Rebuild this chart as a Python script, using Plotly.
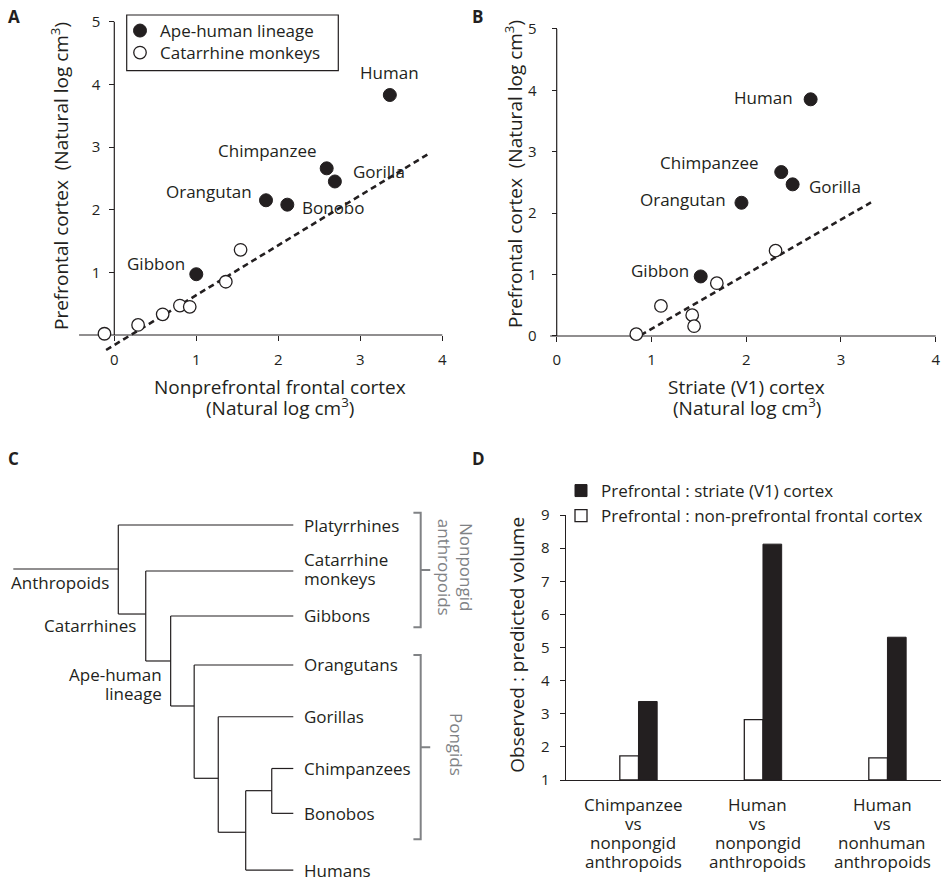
import plotly.graph_objects as go

W, H = 941, 880

# ---------------- Data ----------------
# Panel A: prefrontal vs nonprefrontal frontal cortex (natural log cm^3)
ape_names_A = ["Human", "Chimpanzee", "Gorilla", "Orangutan", "Bonobo", "Gibbon"]
ape_x_A = [3.36, 2.59, 2.69, 1.85, 2.11, 1.00]
ape_y_A = [3.83, 2.66, 2.45, 2.15, 2.08, 0.97]
monkey_x_A = [-0.12, 0.29, 0.59, 0.80, 0.92, 1.36, 1.54]
monkey_y_A = [0.02, 0.16, 0.33, 0.47, 0.45, 0.85, 1.36]
fit_slope_A, fit_intercept_A = 0.796, -0.16
fit_xspan_A = [-0.10, 3.83]

# Panel B: prefrontal vs striate (V1) cortex (natural log cm^3)
ape_names_B = ["Human", "Chimpanzee", "Gorilla", "Orangutan", "Gibbon"]
ape_x_B = [2.68, 2.37, 2.49, 1.95, 1.52]
ape_y_B = [3.855, 2.67, 2.47, 2.17, 0.97]
monkey_x_B = [0.84, 1.10, 1.43, 1.45, 1.69, 2.31]
monkey_y_B = [0.03, 0.49, 0.34, 0.16, 0.86, 1.39]
fit_slope_B, fit_intercept_B = 0.889, -0.773
fit_xspan_B = [0.887, 3.317]

xticks_AB = [0, 1, 2, 3, 4]
yticks_A = [1, 2, 3, 4, 5]
yticks_B = [0, 1, 2, 3, 4, 5]

# Panel C: cladogram
leaf_names = ["Platyrrhines", "Catarrhine\nmonkeys", "Gibbons", "Orangutans",
              "Gorillas", "Chimpanzees", "Bonobos", "Humans"]
leaf_rows = [0.0, 0.933, 1.846, 2.84, 3.89, 4.94, 5.85, 7.0]
leaf_depth = 1.0
stem_depth = 0.0
node_names = ["Anthropoids", "Catarrhines", "Ape-human\nlineage", "Great apes",
              "African apes", "Hominins", "Pan"]
node_depths = [0.375, 0.473, 0.562, 0.646, 0.732, 0.830, 0.923]
node_rows = [0.893, 1.806, 2.759, 3.672, 5.139, 6.234, 5.39]
node_children = [
    ["Platyrrhines", "Catarrhines"],
    ["Catarrhine\nmonkeys", "Ape-human\nlineage"],
    ["Gibbons", "Great apes"],
    ["Orangutans", "African apes"],
    ["Gorillas", "Hominins"],
    ["Pan", "Humans"],
    ["Chimpanzees", "Bonobos"],
]
labelled_nodes = ["Anthropoids", "Catarrhines", "Ape-human\nlineage"]
bracket_names = ["Nonpongid\nanthropoids", "Pongids"]
bracket_start_rows = [-0.25, 2.637]
bracket_end_rows = [2.075, 6.377]

# Panel D: observed : predicted volume
comparisons = ["Chimpanzee\nvs\nnonpongid\nanthropoids",
               "Human\nvs\nnonpongid\nanthropoids",
               "Human\nvs\nnonhuman\nanthropoids"]
ratio_nonprefrontal = [1.73, 2.82, 1.67]
ratio_striate = [3.37, 8.12, 5.31]
yticks_D = [1, 2, 3, 4, 5, 6, 7, 8, 9]

# ---------------- Styles ----------------
INK = "#231f20"
GRAY = "#808285"
FONT = "Open Sans"


def clamp(v):
    return max(0.0, min(1.0, v))


def dom_x(x0px, scale, rng):
    return [clamp((x0px + rng[0] * scale) / W), clamp((x0px + rng[1] * scale) / W)]


def dom_y(y0px, scale, rng):
    # y0px: pixel row of value 0; scale px per unit (upwards)
    return [clamp(1 - (y0px - rng[0] * scale) / H), clamp(1 - (y0px - rng[1] * scale) / H)]


fig = go.Figure()

# ---------- Panels A and B ----------
A = dict(x0=114.3, xs=82.0, xr=[-0.43, 4.03], y0=335.0, ys=62.66, yr=[-0.32, 5.06])
B = dict(x0=556.7, xs=94.75, xr=[-0.07, 4.03], y0=336.0, ys=61.4, yr=[-0.12, 5.06])

for ax, P, fx, fslope, fint, apex, apey, monx, mony, leg in [
    ("", A, fit_xspan_A, fit_slope_A, fit_intercept_A, ape_x_A, ape_y_A, monkey_x_A, monkey_y_A, True),
    ("2", B, fit_xspan_B, fit_slope_B, fit_intercept_B, ape_x_B, ape_y_B, monkey_x_B, monkey_y_B, False),
]:
    fig.add_trace(go.Scatter(
        x=fx, y=[fslope * v + fint for v in fx], mode="lines",
        line=dict(color=INK, width=2.6, dash="6px,4px"),
        xaxis="x" + ax, yaxis="y" + ax, showlegend=False, hoverinfo="skip"))
    fig.add_trace(go.Scatter(
        x=apex, y=apey, mode="markers", name="Ape-human lineage",
        marker=dict(size=13, color=INK, line=dict(color=INK, width=1)),
        xaxis="x" + ax, yaxis="y" + ax, showlegend=leg, legend="legend", cliponaxis=False))
    fig.add_trace(go.Scatter(
        x=monx, y=mony, mode="markers", name="Catarrhine monkeys",
        marker=dict(size=12.5, color="white", line=dict(color=INK, width=1.3)),
        xaxis="x" + ax, yaxis="y" + ax, showlegend=leg, legend="legend3", cliponaxis=False))

# point labels: (xanchor, xshift, yshift)
lab_A = {"Human": ("center", 0, 23), "Chimpanzee": ("right", -8, 17.5),
         "Gorilla": ("left", 16, 10), "Orangutan": ("right", -12, 8.5),
         "Bonobo": ("left", 13, -2.5), "Gibbon": ("right", -9, 11)}
lab_B = {"Human": ("right", -16, 2), "Chimpanzee": ("right", -20, 9.5),
         "Gorilla": ("left", 14, -2.5), "Orangutan": ("right", -13, 3),
         "Gibbon": ("right", -9.5, 6)}

annotations = []
for ax, names, xs, ys, lab in [("", ape_names_A, ape_x_A, ape_y_A, lab_A),
                               ("2", ape_names_B, ape_x_B, ape_y_B, lab_B)]:
    for n, x, y in zip(names, xs, ys):
        xa, dx, dy = lab[n]
        annotations.append(dict(x=x, y=y, xref="x" + ax, yref="y" + ax, text=n,
                                showarrow=False, xanchor=xa, yanchor="middle",
                                xshift=dx, yshift=dy, font=dict(size=17, color=INK)))

shapes = []
for ax, P in [("", A), ("2", B)]:
    shapes.append(dict(type="line", xref="x" + ax, yref="y" + ax, x0=P["xr"][0], x1=xticks_AB[-1],
                       y0=0, y1=0, line=dict(color=INK, width=1.2), layer="below"))
    shapes.append(dict(type="line", xref="x" + ax, yref="y" + ax, x0=0, x1=0,
                       y0=0, y1=yticks_B[-1], line=dict(color=INK, width=1.2), layer="below"))
# legend frame for panel A
shapes.append(dict(type="rect", xref="paper", yref="paper", x0=126.7 / W, x1=338.3 / W,
                   y0=1 - 70.7 / H, y1=1 - 15 / H, line=dict(color=INK, width=1.2),
                   fillcolor="rgba(0,0,0,0)", layer="above"))

axis_common = dict(showgrid=False, zeroline=False, showline=False, ticks="outside",
                   ticklen=5, tickwidth=1.2, tickcolor=INK,
                   tickfont=dict(size=15, color=INK, family=FONT))

layout_axes = {}
for ax, P, yt, yoff, xoff in [("", A, yticks_A, 6, 6), ("2", B, yticks_B, 5, 12)]:
    layout_axes["xaxis" + ax] = dict(axis_common, domain=dom_x(P["x0"], P["xs"], P["xr"]),
                                     range=P["xr"], tickvals=xticks_AB, anchor="free",
                                     position=1 - P["y0"] / H, ticklabelstandoff=yoff)
    layout_axes["yaxis" + ax] = dict(axis_common, domain=dom_y(P["y0"], P["ys"], P["yr"]),
                                     range=P["yr"], tickvals=yt, anchor="free",
                                     position=P["x0"] / W, ticklabelstandoff=xoff)

# axis titles A, B
for cx, lines in [(280.3, ["Nonprefrontal frontal cortex", "(Natural log cm<sup>3</sup>)"]),
                  (746.5, ["Striate (V1) cortex", "(Natural log cm<sup>3</sup>)"])]:
    for j, t in enumerate(lines):
        annotations.append(dict(x=cx / W, y=1 - (387 + 19.5 * j) / H, xref="paper", yref="paper",
                                text=t, showarrow=False, xanchor="center", yanchor="middle",
                                font=dict(size=19, color=INK)))
for cx, cy in [(60, 176), (514, 174)]:
    annotations.append(dict(x=cx / W, y=1 - cy / H, xref="paper", yref="paper",
                            text="Prefrontal cortex\u00a0\u00a0(Natural log cm<sup>3</sup>)",
                            textangle=-90, showarrow=False, xanchor="center", yanchor="middle",
                            font=dict(size=19, color=INK)))

# ---------- Panel C: cladogram ----------
depth = {n: leaf_depth for n in leaf_names}
row = dict(zip(leaf_names, leaf_rows))
depth.update(dict(zip(node_names, node_depths)))
row.update(dict(zip(node_names, node_rows)))
tx, ty = [], []
root = node_names[0]
tx += [stem_depth, depth[root], None]
ty += [row[root], row[root], None]
for n, kids in zip(node_names, node_children):
    rs = [row[k] for k in kids]
    tx += [depth[n], depth[n], None]
    ty += [min(rs), max(rs), None]
    for k in kids:
        tx += [depth[n], depth[k], None]
        ty += [row[k], row[k], None]
fig.add_trace(go.Scatter(x=tx, y=ty, mode="lines", line=dict(color=INK, width=1.2),
                         xaxis="x3", yaxis="y3", showlegend=False, hoverinfo="skip"))

# brackets
HOOK, BAR, TIP = 1.429, 1.455, 1.489
bx, by = [], []
for r0, r1 in zip(bracket_start_rows, bracket_end_rows):
    m = (r0 + r1) / 2
    bx += [HOOK, BAR, BAR, TIP, BAR, BAR, HOOK, None]
    by += [r0, r0, m, m, m, r1, r1, None]
fig.add_trace(go.Scatter(x=bx, y=by, mode="lines", line=dict(color=GRAY, width=2),
                         xaxis="x3", yaxis="y3", showlegend=False, hoverinfo="skip"))
for nm, r0, r1, dx in zip(bracket_names, bracket_start_rows, bracket_end_rows, [25, 27]):
    annotations.append(dict(x=TIP, y=(r0 + r1) / 2, xref="x3", yref="y3",
                            text=nm.replace("\n", "<br>"), textangle=90, showarrow=False,
                            xanchor="center", yanchor="middle", xshift=dx, yshift=3,
                            font=dict(size=17, color=GRAY)))

LS = 19
for n, r in zip(leaf_names, leaf_rows):
    parts = n.split("\n")
    k = len(parts)
    for j, t in enumerate(parts):
        annotations.append(dict(x=leaf_depth, y=r, xref="x3", yref="y3", text=t,
                                showarrow=False, xanchor="left", yanchor="middle",
                                xshift=9, yshift=(k - 1) / 2 * LS - LS * j + (2 if k > 1 else 0),
                                font=dict(size=17, color=INK)))
node_lab_off = {"Anthropoids": (-7, -13), "Catarrhines": (-7.5, -11),
                "Ape-human\nlineage": (-6.5, -14)}
for n in labelled_nodes:
    dx, dy = node_lab_off[n]
    for j, t in enumerate(n.split("\n")):
        annotations.append(dict(x=depth[n], y=row[n], xref="x3", yref="y3", text=t,
                                showarrow=False, xanchor="right", yanchor="middle",
                                xshift=dx, yshift=dy - 18.5 * j,
                                font=dict(size=17, color=INK)))

tree_px0, tree_scale = 13.3, 280.0
row_px0, row_scale = 525.0, 49.29
layout_axes["xaxis3"] = dict(domain=[0, 470 / W], visible=False, anchor="y3",
                             range=[(0 - tree_px0) / tree_scale, (470 - tree_px0) / tree_scale])
layout_axes["yaxis3"] = dict(domain=[0, 1 - 470 / H], visible=False, anchor="x3",
                             range=[(880 - row_px0) / row_scale, (470 - row_px0) / row_scale])

# ---------- Panel D ----------
xcat = list(range(len(comparisons)))
fig.add_trace(go.Bar(x=xcat, y=[v - 1 for v in ratio_nonprefrontal], base=1,
                     name="Prefrontal : non-prefrontal frontal cortex",
                     marker=dict(color="white", line=dict(color=INK, width=1.3)),
                     xaxis="x4", yaxis="y4", legend="legend2"))
fig.add_trace(go.Bar(x=xcat, y=[v - 1 for v in ratio_striate], base=1,
                     name="Prefrontal : striate (V1) cortex",
                     marker=dict(color=INK, line=dict(color=INK, width=1)),
                     xaxis="x4", yaxis="y4", legend="legend2"))

D = dict(x0=638.5, xs=124.5, xr=[-0.585, 2.43])
layout_axes["xaxis4"] = dict(domain=dom_x(D["x0"], D["xs"], D["xr"]), range=D["xr"],
                             anchor="y4", showline=True, linecolor=INK, linewidth=1.2,
                             showgrid=False, zeroline=False, ticks="", showticklabels=False)
layout_axes["yaxis4"] = dict(axis_common, domain=[1 - 780 / H, 1 - 515 / H], range=[1, 9],
                             anchor="x4", showline=True, linecolor=INK, linewidth=1.2,
                             tickvals=yticks_D, ticklabelstandoff=7)
for i, c in enumerate(comparisons):
    for j, t in enumerate(c.split("\n")):
        annotations.append(dict(x=i, y=1, xref="x4", yref="y4", text=t, showarrow=False,
                                xanchor="center", yanchor="middle", xshift=-5,
                                yshift=-(24 + 19 * j), font=dict(size=17, color=INK)))
annotations.append(dict(x=516.7 / W, y=1 - 645 / H, xref="paper", yref="paper",
                        text="Observed : predicted volume", textangle=-90, showarrow=False,
                        xanchor="center", yanchor="middle", font=dict(size=19, color=INK)))

# panel letters
for L, px, py in [("A", 14, 16), ("B", 477, 16), ("C", 13, 458), ("D", 478, 458)]:
    annotations.append(dict(x=px / W, y=1 - py / H, xref="paper", yref="paper",
                            text="<b>%s</b>" % L, showarrow=False, xanchor="center",
                            yanchor="middle", font=dict(size=17, color=INK)))

leg_common = dict(xanchor="left", yanchor="top", bgcolor="rgba(0,0,0,0)",
                  font=dict(size=17, color=INK), borderwidth=0)
fig.update_layout(
    width=W, height=H, margin=dict(l=0, r=0, t=0, b=0, autoexpand=False),
    paper_bgcolor="white", plot_bgcolor="rgba(0,0,0,0)",
    font=dict(family=FONT, color=INK, size=17),
    barmode="group", bargap=0.7, bargroupgap=0,
    showlegend=True,
    legend=dict(leg_common, x=120 / W, y=1 - 13 / H),
    legend3=dict(leg_common, x=120 / W, y=1 - 35 / H),
    legend2=dict(leg_common, x=561 / W, y=1 - 473 / H, traceorder="reversed"),
    shapes=shapes, annotations=annotations,
    **layout_axes,
)

fig.write_html("out.html", config={"displayModeBar": False},
               post_script="document.body.style.margin='0';document.body.style.overflow='hidden';")
